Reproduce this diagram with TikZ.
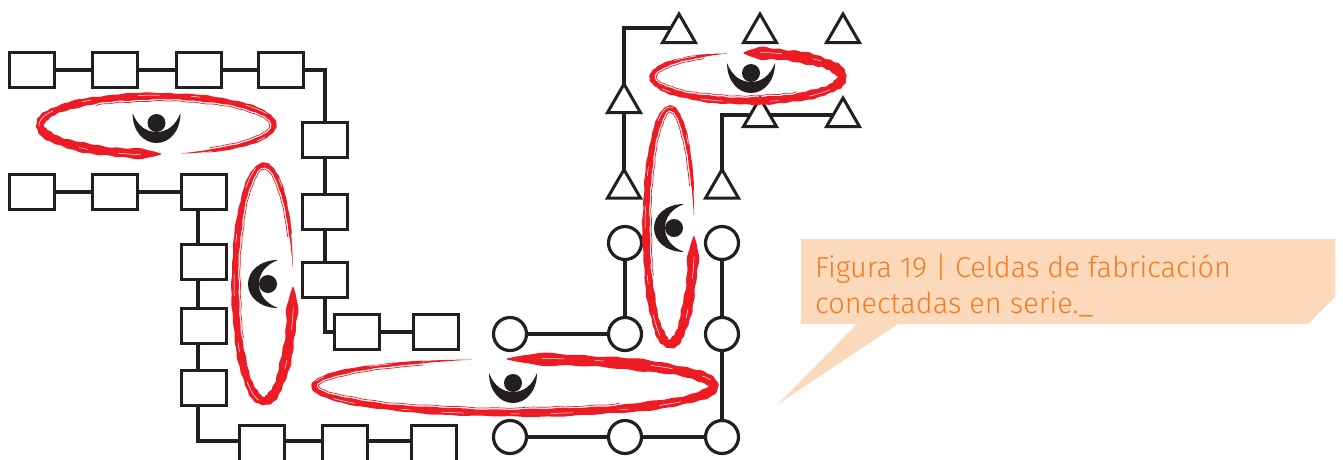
\documentclass[tikz,border=0pt]{standalone}
\usepackage{fontspec}
\setmainfont{Fira Sans Light}
\usetikzlibrary{shapes.geometric}
\definecolor{ink}{HTML}{231F20}
\definecolor{brushred}{HTML}{ED1C24}
\definecolor{peach}{HTML}{FDD9BC}
\definecolor{capt}{HTML}{F47B20}
\pgfdeclarelayer{wires}
\pgfsetlayers{wires,main}
\tikzset{
  box/.style={draw=ink,fill=white,line width=3pt,minimum width=45pt,minimum height=35pt,inner sep=0pt,outer sep=0pt},
  cutbox/.style={box,minimum height=41pt},
  ring/.style={circle,draw=ink,fill=white,line width=3.2pt,minimum size=33pt,inner sep=0pt,outer sep=0pt},
  tri/.style={regular polygon,regular polygon sides=3,draw=ink,fill=white,line width=3pt,minimum size=38pt,inner sep=0pt,outer sep=0pt},
  wire/.style={draw=ink,line width=3.2pt,line join=miter}
}
% cx cy rx ry start w0 w1
\newcommand{\brush}[7]{%
  \begin{scope}[declare function={
      wd(\t)=0.5*min(1,(\t+1)/10)*min(1,(352-\t)/25)*(#6+(#7-#6)*\t/350)*(1+.10*sin(11*\t)+.09*sin(37*\t));
      nl(\t)=sqrt((#4/#3*cos(\t+#5))^2+(sin(\t+#5))^2);
      nx(\t)=#4/#3*cos(\t+#5)/nl(\t);
      ny(\t)=sin(\t+#5)/nl(\t);}]
  \fill[brushred] plot[domain=0:350,samples=320,variable=\t]
    ({#1+#3*cos(\t+#5)+wd(\t)*nx(\t)},{#2+#4*sin(\t+#5)+wd(\t)*ny(\t)})
    -- plot[domain=350:0,samples=320,variable=\t]
    ({#1+#3*cos(\t+#5)-wd(\t)*nx(\t)},{#2+#4*sin(\t+#5)-wd(\t)*ny(\t)})
    -- cycle;
  \draw[brushred,line width=.7pt] plot[domain=150:335,samples=120,variable=\t]
    ({#1+#3*cos(\t+#5)-(wd(\t)+1.6)*nx(\t)},{#2+#4*sin(\t+#5)-(wd(\t)+1.6)*ny(\t)});
  \draw[white,line width=.5pt,dash pattern=on 22pt off 31pt on 9pt off 47pt] plot[domain=10:345,samples=160,variable=\t]
    ({#1+#3*cos(\t+#5)+.9*nx(\t)},{#2+#4*sin(\t+#5)+.9*ny(\t)});
  \end{scope}}
\newcommand{\person}[3]{%
  \begin{scope}[shift={(#1,#2)},rotate=#3]
    \fill[ink] (0,0) circle[radius=9];
    \fill[ink] (-24,-10) .. controls (-24,8) and (-13,20) .. (0,20)
      .. controls (13,20) and (24,8) .. (24,-10)
      .. controls (19,3) and (10,9) .. (0,9)
      .. controls (-10,9) and (-19,3) .. cycle;
  \end{scope}}
\begin{document}
\begin{tikzpicture}[x=1pt,y=-1pt]
\useasboundingbox (0,0) rectangle (1343,459);
\clip (0,0) rectangle (1343,459);
% callout
\fill[peach] (801,239) -- (1335,239) -- (1335,297) -- (1308,324) -- (898,324) -- (778,404) -- (857,324) -- (801,324) -- cycle;
\node[anchor=base west,inner sep=0pt,text=capt,font=\fontsize{28.9}{36}\selectfont,align=left] (cap) at (815,313) {Figura 19 | Celdas de fabricación\\conectadas en serie.\_};
% squares
\node[box] (a1) at (31.5,70) {};
\node[box] (a2) at (114.5,70) {};
\node[box] (a3) at (198.5,70) {};
\node[box] (a4) at (281,70) {};
\node[box] (a5) at (325,140) {};
\node[box] (a6) at (325,212) {};
\node[box] (a7) at (325,280) {};
\node[box] (a8) at (357,332) {};
\node[box] (a9) at (436,332) {};
\node[box] (b1) at (32,192) {};
\node[box] (b2) at (115,192) {};
\node[box] (b3) at (204,192) {};
\node[box] (b4) at (204,262) {};
\node[box] (b5) at (204,326) {};
\node[box] (b6) at (204,388) {};
\node[cutbox] (b7) at (262,446) {};
\node[cutbox] (b8) at (345,446) {};
\node[cutbox] (b9) at (434,446) {};
% circles
\node[ring] (c1) at (510,334) {};
\node[ring] (c2) at (625,334) {};
\node[ring] (c3) at (625,243) {};
\node[ring] (c4) at (722,243) {};
\node[ring] (c5) at (722,334) {};
\node[ring] (c6) at (510,437) {};
\node[ring] (c7) at (625,437) {};
\node[ring] (c8) at (722,437) {};
% triangles
\node[tri] (t1) at (679,33) {};
\node[tri] (t2) at (760,33) {};
\node[tri] (t3) at (843,33) {};
\node[tri] (t4) at (624,103) {};
\node[tri] (t5) at (624,188.5) {};
\node[tri] (t6) at (722,188.5) {};
\node[tri] (t7) at (760,117) {};
\node[tri] (t8) at (843,117) {};
% connectors
\begin{pgfonlayer}{wires}
\draw[wire] (a1) -- (a2);
\draw[wire] (a2) -- (a3);
\draw[wire] (a3) -- (a4);
\draw[wire] (a4) -| (a5);
\draw[wire] (a5) -- (a6);
\draw[wire] (a6) -- (a7);
\draw[wire] (a7) |- (a8);
\draw[wire] (a8) -- (a9);
\draw[wire] (b1) -- (b2);
\draw[wire] (b2) -- (b3);
\draw[wire] ([xshift=-6pt]b3.center) -- ([xshift=-6pt]b6.center);
\draw[wire] ([xshift=-6pt]b6.center) |- ([yshift=5pt]b7.center);
\draw[wire] ([yshift=5pt]b7.center) -- ([yshift=5pt]b8.center);
\draw[wire] ([yshift=5pt]b8.center) -- ([yshift=5pt]b9.center);
\draw[wire] (c1) -- (c2);
\draw[wire] (c2) -- (c3);
\draw[wire] (c4) -- (c5);
\draw[wire] (c5) -- (c8);
\draw[wire] (c6) -- (c7);
\draw[wire] (c7) -- (c8);
\draw[wire] (t5) -- (t4);
\draw[wire] (t4) |- ([yshift=5pt]t1.center);
\draw[wire] (t6) |- ([yshift=2pt]t7.center);
\draw[wire] ([yshift=2pt]t7.center) -- ([yshift=2pt]t8.center);
\end{pgfonlayer}
% brush strokes
\brush{157}{125}{117}{29}{88}{10}{3.5}
\brush{264}{283}{29}{118}{2}{11}{3}
\brush{514}{386}{200}{27}{268}{12}{3}
\brush{747}{77}{95}{24}{268}{12}{3}
\brush{670}{226}{24}{118}{5}{11}{3}
% people
\person{156.5}{123}{0}
\person{268}{284}{-90}
\person{513}{383}{0}
\person{751}{73}{0}
\person{674}{228}{-90}
\end{tikzpicture}
\end{document}
